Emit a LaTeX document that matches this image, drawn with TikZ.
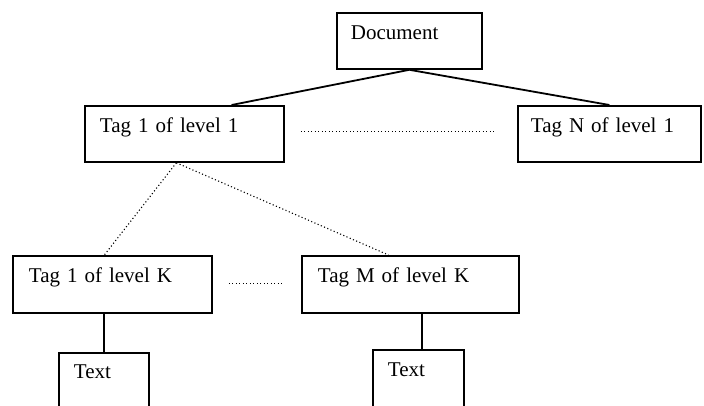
\documentclass[tikz,border=0pt]{standalone}
\usepackage{fontspec}
\setmainfont{Liberation Serif}
\usetikzlibrary{calc}
\begin{document}
\begin{tikzpicture}[x=1pt,y=-1pt,
  box/.style={draw, line width=1.8pt, anchor=north west, align=left,
    inner ysep=0pt, text height=27pt, text depth=29pt,
    font=\fontsize{21}{25}\selectfont},
  solidlink/.style={line width=1.8pt},
  dotlink/.style={line width=1.1pt, dash pattern=on 1.1pt off 2.4pt}]
\useasboundingbox (0,0) rectangle (704,406);
\clip (0,0) rectangle (704,406);
\node[box, inner xsep=14pt, text width=117pt] (doc) at (336,12) {Document};
\node[box, inner xsep=15pt, text width=169pt] (t1) at (84,105) {Tag 1 of level 1};
\node[box, inner xsep=13pt, text width=157pt] (tN) at (517,105) {Tag N of level 1};
\node[box, inner xsep=16pt, text width=167pt, text depth=30pt] (tK1) at (12,255) {Tag 1 of level K};
\node[box, inner xsep=16pt, text width=185pt, text depth=30pt] (tMK) at (301,255) {Tag M of level K};
\node[box, inner xsep=15pt, text width=60pt, text height=26pt, text depth=40pt] (x1) at (58,352) {Text};
\node[box, inner xsep=15pt, text width=61pt, text depth=40pt] (x2) at (372,349) {Text};
% solid connectors
\draw[solidlink] (doc.south) -- ($(t1.north west)!0.735!(t1.north east)$);
\draw[solidlink] (doc.south) -- (tN.north);
\draw[solidlink] (tK1.south -| x1.north) -- (x1.north);
\coordinate (x2top) at ($(x2.north)+(3.5,0)$);
\draw[solidlink] (tMK.south -| x2top) -- (x2top);
% dotted connectors
\coordinate (t1b) at ($(t1.south west)!0.46!(t1.south east)$);
\draw[dotlink] (t1b) -- ($(tK1.north west)!0.46!(tK1.north east)$);
\draw[dotlink] (t1b) -- ($(tMK.north west)!0.40!(tMK.north east)$);
\coordinate (h1a) at ($(t1.east)+(16,-2)$);
\coordinate (h1b) at ($(tN.west)+(-21,-2)$);
\draw[dotlink] (h1a) -- (h1b);
\coordinate (h2a) at ($(tK1.east)+(16,-1)$);
\coordinate (h2b) at ($(tMK.west)+(-19,-1)$);
\draw[dotlink] (h2a) -- (h2b);
\end{tikzpicture}
\end{document}
